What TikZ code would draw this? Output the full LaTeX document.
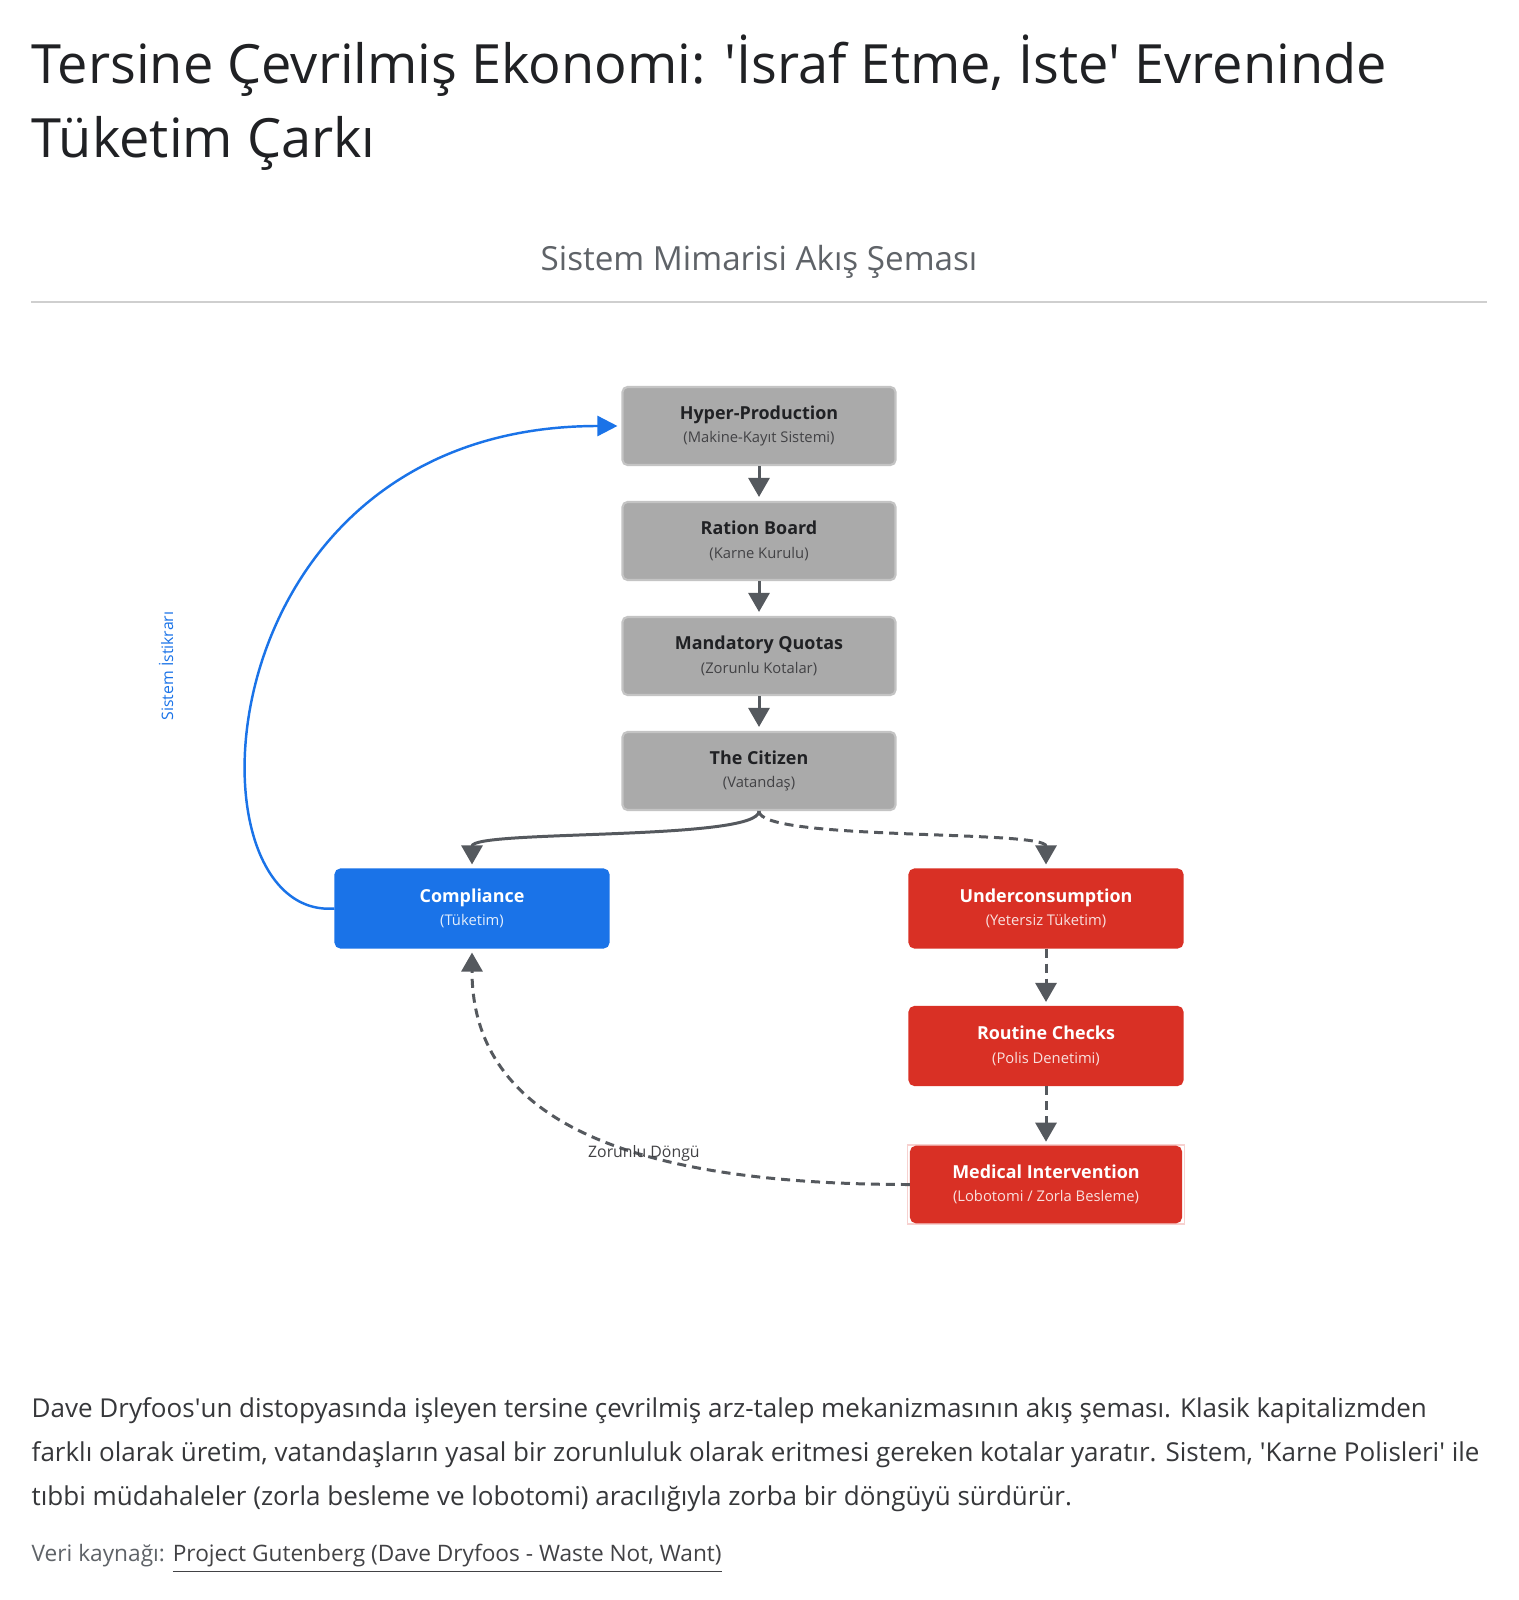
\documentclass[tikz,border=0pt]{standalone}
\usepackage{fontspec}
\setmainfont{Open Sans}
\usetikzlibrary{arrows.meta}

\definecolor{gboxfill}{HTML}{AAAAAA}
\definecolor{gboxline}{HTML}{C4C4C4}
\definecolor{gblue}{HTML}{1A73E8}
\definecolor{gred}{HTML}{D93025}
\definecolor{garrow}{HTML}{55595E}
\definecolor{gtext}{HTML}{5F6368}
\definecolor{ink}{HTML}{202124}
\definecolor{ruleline}{HTML}{CFCFCF}

\newcommand{\boxlabel}[2]{{\fontsize{5.1}{6.7}\selectfont\bfseries #1}\\{\fontsize{4.2}{6.7}\selectfont\color{subcol}#2}}

\begin{document}
\begin{tikzpicture}[
  gbox/.style={rectangle, rounded corners=0.05cm, draw=gboxline, line width=0.6pt, fill=gboxfill, minimum width=2.73cm, minimum height=0.78cm, inner sep=0pt, align=center, text=ink, font=\fontsize{5.1}{6.7}\selectfont, execute at begin node={\colorlet{subcol}{ink!85}}},
  bluebox/.style={gbox, draw=gblue, fill=gblue, text=white, execute at begin node={\colorlet{subcol}{white!88!gblue}}},
  redbox/.style={gbox, draw=gred, fill=gred, text=white, execute at begin node={\colorlet{subcol}{white!85!gred}}},
  flow/.style={-{Triangle[length=0.19cm,width=0.21cm]}, draw=garrow, line width=0.85pt, shorten >=0.04cm},
  dflow/.style={flow, dash pattern=on 0.09cm off 0.06cm},
  loop/.style={-{Triangle[length=0.2cm,width=0.2cm]}, draw=gblue, line width=0.7pt, shorten >=0.04cm},
  lbl/.style={font=\fontsize{4.5}{5.5}\selectfont},
  plain/.style={inner sep=0pt}
]

% sayfa
\useasboundingbox[fill=white] (0,0) rectangle (15.18,-16.00);

% başlık
\node[plain, anchor=base west, font=\fontsize{15.4}{20}\selectfont, text=ink] (title) at (0.31,-0.84) {Tersine Çevrilmiş Ekonomi: \textquotesingle İsraf Etme, İste\textquotesingle{} Evreninde};
\node[plain, anchor=base west, font=\fontsize{15.4}{20}\selectfont, text=ink] (title2) at (0.31,-1.58) {Tüketim Çarkı};
\node[plain, anchor=base, font=\fontsize{9.45}{11}\selectfont, text=gtext] (subtitle) at (7.59,-2.71) {Sistem Mimarisi Akış Şeması};
\draw[ruleline, line width=0.6pt] (0.31,-3.02) -- (14.87,-3.02);

% ana zincir
\node[gbox] (hyper) at (7.59,-4.26) {\boxlabel{Hyper-Production}{(Makine-Kayıt Sistemi)}};
\node[gbox] (ration) at (7.59,-5.41) {\boxlabel{Ration Board}{(Karne Kurulu)}};
\node[gbox] (quotas) at (7.59,-6.56) {\boxlabel{Mandatory Quotas}{(Zorunlu Kotalar)}};
\node[gbox] (citizen) at (7.59,-7.71) {\boxlabel{The Citizen}{(Vatandaş)}};

% iki yol
\node[bluebox] (comp) at (4.72,-9.085) {\boxlabel{Compliance}{(Tüketim)}};
\node[redbox] (under) at (10.46,-9.085) {\boxlabel{Underconsumption}{(Yetersiz Tüketim)}};
\node[redbox] (routine) at (10.46,-10.46) {\boxlabel{Routine Checks}{(Polis Denetimi)}};
\node[rectangle, draw=gred!22, line width=0.4pt, minimum width=2.77cm, minimum height=0.79cm] (medframe) at (10.46,-11.845) {};
\node[redbox, minimum width=2.70cm, minimum height=0.755cm] (med) at (10.46,-11.845) {\boxlabel{Medical Intervention}{(Lobotomi / Zorla Besleme)}};

% oklar
\draw[flow] (hyper) -- (ration);
\draw[flow] (ration) -- (quotas);
\draw[flow] (quotas) -- (citizen);
\draw[flow] (citizen.south) .. controls +(0,-0.3) and +(0,0.39) .. (comp.north);
\draw[dflow] (citizen.south) .. controls +(0,-0.3) and +(0,0.39) .. (under.north);
\draw[dflow] (under) -- (routine);
\draw[dflow] (routine) -- (med);
\draw[dflow] (med.west) .. controls +(-2.59,0) and +(0,-1.82) .. (comp.south) node[pos=0.4, lbl, text=ink!85] (cycle) {Zorunlu Döngü};
\draw[loop] (comp.west) .. controls +(-1.55,-0.12) and +(-4.22,0) .. (hyper.west);
\node[lbl, text=gblue, rotate=90] (stab) at (1.66,-6.66) {Sistem İstikrarı};

% açıklama
\node[plain, anchor=base west, align=left, font=\fontsize{7.4}{12.4}\selectfont, text=ink!90] (caption) at (0.31,-15.05) {Dave Dryfoos\textquotesingle un distopyasında işleyen tersine çevrilmiş arz-talep mekanizmasının akış şeması. Klasik kapitalizmden\\farklı olarak üretim, vatandaşların yasal bir zorunluluk olarak eritmesi gereken kotalar yaratır. Sistem, \textquotesingle Karne Polisleri\textquotesingle{} ile\\tıbbi müdahaleler (zorla besleme ve lobotomi) aracılığıyla zorba bir döngüyü sürdürür.};
\node[plain, anchor=base west, font=\fontsize{6.45}{8}\selectfont, text=gtext] (source) at (0.31,-15.61) {Veri kaynağı: \textcolor{ink!85}{\underline{Project Gutenberg (Dave Dryfoos - Waste Not, Want)}}};

\end{tikzpicture}
\end{document}
